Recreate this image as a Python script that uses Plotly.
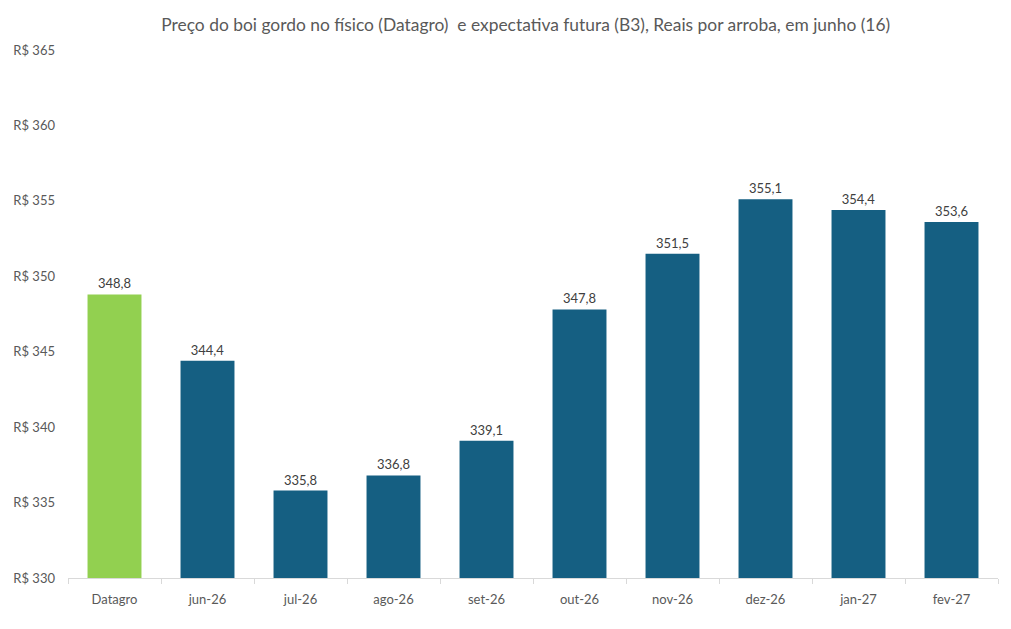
import plotly.graph_objects as go

categories = ["Datagro", "jun-26", "jul-26", "ago-26", "set-26", "out-26", "nov-26", "dez-26", "jan-27", "fev-27"]
values = [348.8, 344.4, 335.8, 336.8, 339.1, 347.8, 351.5, 355.1, 354.4, 353.6]
tick_vals = [330, 335, 340, 345, 350, 355, 360, 365]
tick_text = ["R$ " + str(v) for v in tick_vals]

colors = ["#92D050"] + ["#155F82"] * (len(values) - 1)
labels = [f"{v:.1f}".replace(".", ",") for v in values]

fig = go.Figure(go.Bar(
    x=categories, y=values,
    marker=dict(color=colors, line=dict(width=0)),
    width=0.58,
    text=labels, textposition="outside",
    textfont=dict(size=13, color="#404040", family="Lato"),
    cliponaxis=False,
))

fig.update_layout(
    width=1011, height=629,
    margin=dict(l=68, r=13, t=50, b=51),
    paper_bgcolor="white", plot_bgcolor="white",
    font=dict(family="Lato", color="#595959"),
    title=dict(text="Preço do boi gordo no físico (Datagro)  e expectativa futura (B3), Reais por arroba, em junho (16)",
               x=0.52, xanchor="center", y=0.96, yanchor="middle",
               font=dict(size=17.4, color="#595959", family="Lato")),
    showlegend=False,
)
fig.update_xaxes(
    showline=True, linecolor="#D9D9D9", linewidth=1,
    ticks="outside", tickson="boundaries", ticklen=5, tickcolor="#D9D9D9",
    tickfont=dict(size=13, color="#595959"), showgrid=False,
    ticklabelstandoff=9,
)
fig.update_yaxes(
    range=[330, 365], tickvals=tick_vals, ticktext=tick_text,
    showgrid=False, zeroline=False, showline=False,
    tickfont=dict(size=13, color="#595959"), ticklabelstandoff=12,
)
fig.write_html("out.html")
